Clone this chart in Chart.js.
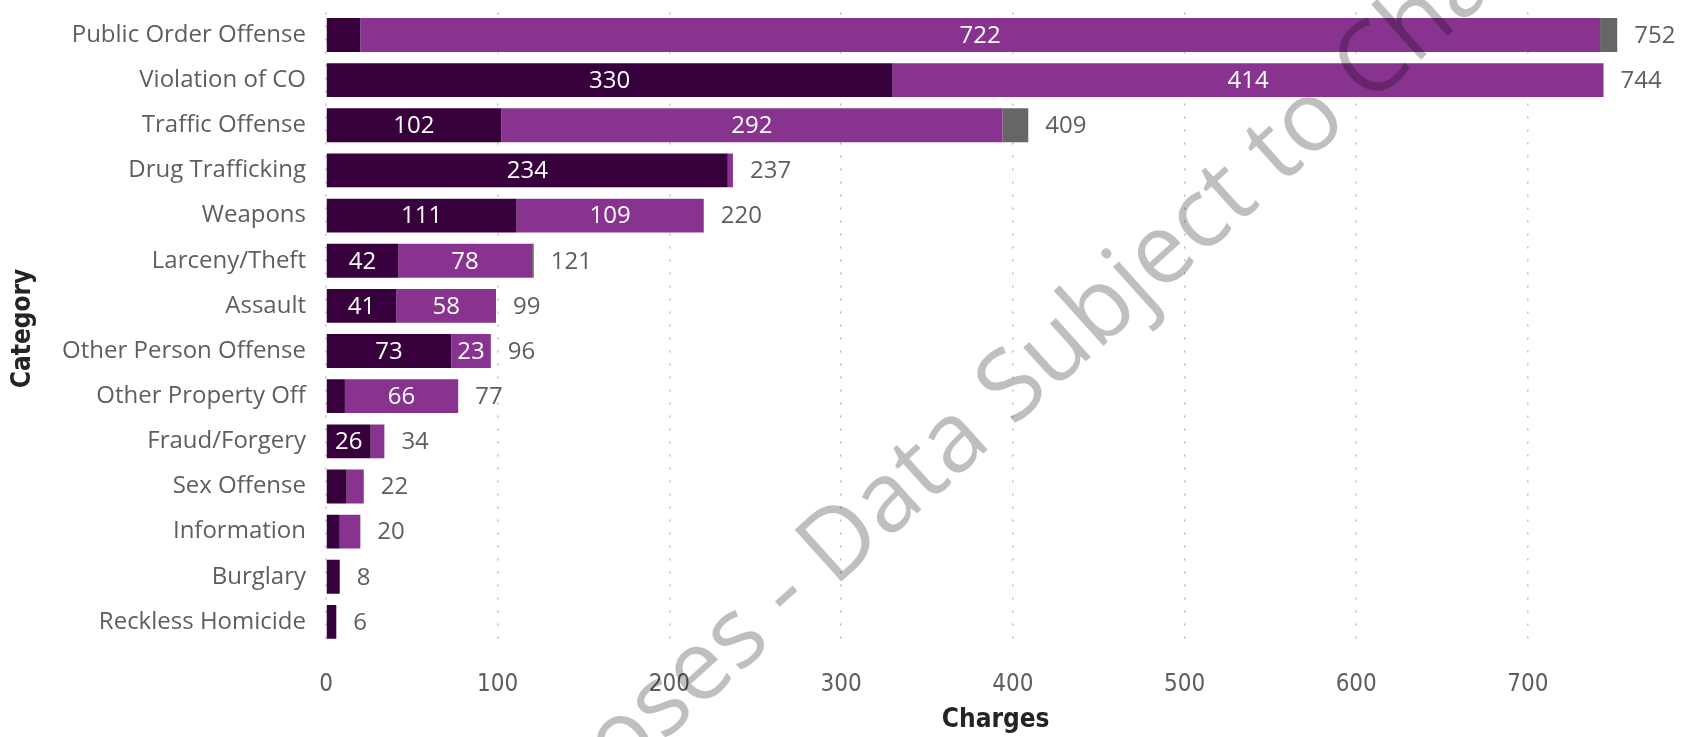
<!DOCTYPE html>
<html>
<head>
<meta charset="utf-8">
<script src="https://cdn.jsdelivr.net/npm/chart.js@4"></script>
<style>
  html, body { margin: 0; padding: 0; background: #fff; }
  #wrap { width: 1691px; height: 737px; position: relative; }
</style>
</head>
<body>
<div id="wrap"><canvas id="chart"></canvas></div>
<script>
//// STACKED BAR - CHARGES BY CATEGORY

const categories = ['Public Order Offense', 'Violation of CO', 'Traffic Offense', 'Drug Trafficking',
    'Weapons', 'Larceny/Theft', 'Assault', 'Other Person Offense', 'Other Property Off',
    'Fraud/Forgery', 'Sex Offense', 'Information', 'Burglary', 'Reckless Homicide'];
const felony      = [20, 330, 102, 234, 111, 42, 41, 73, 11, 26, 12, 8, 8, 6];
const misdemeanor = [722, 414, 292, 3, 109, 78, 58, 23, 66, 8, 10, 12, 0, 0];
const other       = [10, 0, 15, 0, 0, 1, 0, 0, 0, 0, 0, 0, 0, 0];
const xTicks = [0, 100, 200, 300, 400, 500, 600, 700];

const totals = categories.map((c, i) => felony[i] + misdemeanor[i] + other[i]);

const labelGray = '#605E5C';
const font = '"Segoe UI", "Open Sans", sans-serif';
const narrow = '"Liberation Sans Narrow", "DejaVu Sans Condensed", Roboto, sans-serif';

Chart.defaults.font.family = font;
Chart.defaults.font.size = 24;

// white value labels inside segments + gray totals at bar end
const barLabels = {
    id: 'barLabels',
    afterDatasetsDraw(chart) {
        const ctx = chart.ctx;
        ctx.save();
        ctx.font = '24px ' + font;
        ctx.textBaseline = 'middle';
        chart.data.datasets.forEach((ds, di) => {
            if (di === 2) return;
            const meta = chart.getDatasetMeta(di);
            meta.data.forEach((bar, i) => {
                const txt = String(ds.data[i]);
                const w = Math.abs(bar.x - bar.base);
                if (w < ctx.measureText(txt).width + 10) return;
                ctx.fillStyle = '#ffffff';
                ctx.textAlign = 'center';
                ctx.fillText(txt, (bar.x + bar.base) / 2, bar.y + 1);
            });
        });
        const xs = chart.scales.x;
        const ys = chart.scales.y;
        ctx.fillStyle = labelGray;
        ctx.textAlign = 'left';
        totals.forEach((t, i) => {
            ctx.fillText(String(t), xs.getPixelForValue(t) + 17, ys.getPixelForValue(i) + 1);
        });
        ctx.restore();
    }
};

// diagonal watermark, sized so the dash and the "o" of "to" land where they are in the picture
const watermark = {
    id: 'watermark',
    afterDraw(chart) {
        const ctx = chart.ctx;
        const text = 'For Internal Purposes - Data Subject to Change';
        const angle = -42 * Math.PI / 180;
        ctx.save();
        ctx.font = '100px ' + font;
        const dashC = ctx.measureText('For Internal Purposes ').width + ctx.measureText('-').width / 2;
        const oC = ctx.measureText('For Internal Purposes - Data Subject t').width + ctx.measureText('o').width / 2;
        const size = 100 * 706 / (oC - dashC);
        ctx.font = size + 'px ' + font;
        const dc = ctx.measureText('For Internal Purposes ').width + ctx.measureText('-').width / 2;
        const lift = 0.27 * size;
        ctx.translate(786 - Math.sin(angle) * lift, 596 + Math.cos(angle) * lift);
        ctx.rotate(angle);
        ctx.fillStyle = 'rgba(0, 0, 0, 0.25)';
        ctx.textBaseline = 'alphabetic';
        ctx.textAlign = 'left';
        ctx.fillText(text, -dc, 0);
        ctx.restore();
    }
};

new Chart(document.getElementById('chart'), {
    type: 'bar',
    data: {
        labels: categories,
        datasets: [
            { label: 'Felony', data: felony, backgroundColor: '#37003C' },
            { label: 'Misdemeanor', data: misdemeanor, backgroundColor: '#88338F' },
            { label: 'Other', data: other, backgroundColor: '#666666' }
        ]
    },
    options: {
        indexAxis: 'y',
        responsive: true,
        maintainAspectRatio: false,
        animation: false,
        layout: { padding: { top: 12.4, right: 25.7, left: 0, bottom: 0 } },
        datasets: { bar: { barPercentage: 0.75, categoryPercentage: 1, borderWidth: 0 } },
        plugins: { legend: { display: false }, tooltip: { enabled: false } },
        scales: {
            x: {
                stacked: true,
                min: 0,
                max: 780,
                afterBuildTicks(scale) { scale.ticks = xTicks.map(v => ({ value: v })); },
                afterFit(scale) {
                    scale.height = 92.5;
                    scale.paddingLeft = 0;
                    scale.paddingRight = 0;
                },
                border: { display: false, dash: [2, 11] },
                grid: { color: '#bdbdbd', lineWidth: 1.5, drawTicks: false },
                ticks: { color: labelGray, padding: 26, font: { family: narrow, size: 24 } },
                title: {
                    display: true, text: 'Charges', color: '#252423',
                    font: { family: narrow, size: 26, weight: 'bold' }, padding: { top: 0, bottom: 1 }
                }
            },
            y: {
                stacked: true,
                afterFit(scale) {
                    scale.width = 326;
                    scale.paddingTop = 0;
                    scale.paddingBottom = 0;
                },
                border: { display: false },
                grid: { display: false, drawTicks: false },
                ticks: { color: labelGray, padding: 20, font: { family: font, size: 24 } },
                title: {
                    display: true, text: 'Category', color: '#252423',
                    font: { family: narrow, size: 26, weight: 'bold' }, padding: { top: 8, bottom: 0 }
                }
            }
        }
    },
    plugins: [barLabels, watermark]
});
</script>
</body>
</html>
